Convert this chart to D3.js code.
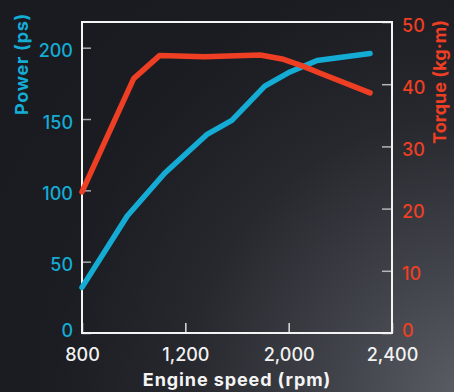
<!DOCTYPE html>
<html><head><meta charset="utf-8">
<script src="https://cdn.jsdelivr.net/npm/d3@7"></script>
<style>html,body{margin:0;padding:0;background:#1b1c21;}svg{display:block;}</style>
</head><body>
<script>
// ---- data ----
const xTicks = [800, 1200, 2000, 2400];
const powerTicks = [0, 50, 100, 150, 200];
const torqueTicks = [0, 10, 20, 30, 40, 50];
const powerRpm = [800, 975, 1120, 1365, 1560, 1815, 2005, 2110, 2315];
const powerPs  = [32, 82, 112, 139, 149, 173, 183, 191, 196];
const torqueRpm = [800, 1000, 1100, 1350, 1780, 1960, 2055, 2120, 2315];
const torqueKgm = [22.7, 40.9, 44.6, 44.4, 44.7, 44.0, 42.9, 41.8, 38.6];

const W = 454, H = 392;
const mLeft = 82, mRight = 392, mTop = 22, mBottom = 333;
const cyan = "#14acd4", red = "#ee3f24";
const font = "Inter, 'Noto Sans', sans-serif";

const svg = d3.select("body").append("svg").attr("width", W).attr("height", H);
const defs = svg.append("defs");
const g = defs.append("radialGradient").attr("id","bg").attr("gradientUnits","userSpaceOnUse")
  .attr("cx", 470).attr("cy", 400).attr("r", 520);
[[0,"#5c5f66"],[0.25,"#42444b"],[0.55,"#26282e"],[0.8,"#1c1d22"],[1,"#1a1b20"]]
  .forEach(([o,c]) => g.append("stop").attr("offset", o).attr("stop-color", c));
svg.append("rect").attr("width", W).attr("height", H).attr("fill", "url(#bg)");

// piecewise scale: ticks are evenly spaced on the axis
const x = d3.scaleLinear().domain(xTicks)
  .range(xTicks.map((d, i) => mLeft + i * (mRight - mLeft) / (xTicks.length - 1)));
const yL = d3.scaleLinear().domain([0, 200]).range([mBottom, 47.7]);
const yR = d3.scaleLinear().domain([0, 50]).range([mBottom, mTop]);

// axes
const ax = svg.append("g").attr("transform", `translate(0,${mBottom})`)
  .call(d3.axisBottom(x).tickValues(xTicks).tickFormat(d3.format(",")).tickSize(-10).tickPadding(15));
ax.selectAll("text").attr("fill", "#f2f2f2");
ax.selectAll(".tick line").attr("stroke", "#dddddd").attr("stroke-width", 1.5);

const al = svg.append("g").attr("transform", `translate(${mLeft},0)`)
  .call(d3.axisLeft(yL).tickValues(powerTicks).tickSize(-9).tickPadding(9));
al.selectAll("text").attr("fill", cyan).attr("dy", d => d === 0 ? "0.2em" : "0.5em");
al.selectAll(".tick line").attr("stroke", "#a9a9a9").attr("stroke-width", 1.5);

const ar = svg.append("g").attr("transform", `translate(${mRight},0)`)
  .call(d3.axisRight(yR).tickValues(torqueTicks).tickSize(-10).tickPadding(10));
ar.selectAll("text").attr("fill", red).attr("dy", d => d === 0 ? "0.2em" : "0.5em");
ar.selectAll(".tick line").attr("stroke", "#b5b5b5").attr("stroke-width", 1.5);

svg.selectAll(".domain").remove();
svg.selectAll(".tick text").attr("font-family", font).attr("font-size", 18).attr("font-weight", 500);

// frame
svg.append("rect").attr("x", mLeft).attr("y", mTop).attr("width", mRight - mLeft).attr("height", mBottom - mTop)
  .attr("fill", "none").attr("stroke", "#f4f4f4").attr("stroke-width", 2);

// lines
const lineP = d3.line().x(d => x(d[0])).y(d => yL(d[1]));
const lineT = d3.line().x(d => x(d[0])).y(d => yR(d[1]));
svg.append("path").datum(powerRpm.map((r, i) => [r, powerPs[i]]))
  .attr("d", lineP).attr("fill", "none").attr("stroke", cyan).attr("stroke-width", 5.5)
  .attr("stroke-linecap", "round").attr("stroke-linejoin", "round");
svg.append("path").datum(torqueRpm.map((r, i) => [r, torqueKgm[i]]))
  .attr("d", lineT).attr("fill", "none").attr("stroke", red).attr("stroke-width", 5.5)
  .attr("stroke-linecap", "round").attr("stroke-linejoin", "round");

// titles
svg.append("text").attr("x", 237).attr("y", 386).attr("text-anchor", "middle")
  .attr("font-family", font).attr("font-size", 18).attr("font-weight", 700).attr("fill", "#f4f4f4")
  .attr("letter-spacing", 0.9).text("Engine speed (rpm)");
svg.append("text").attr("transform", "translate(28,64) rotate(-90)").attr("text-anchor", "middle")
  .attr("font-family", font).attr("font-size", 18).attr("font-weight", 700).attr("fill", cyan)
  .attr("letter-spacing", 0.7).text("Power (ps)");
svg.append("text").attr("transform", "translate(446,82) rotate(-90)").attr("text-anchor", "middle")
  .attr("font-family", font).attr("font-size", 18).attr("font-weight", 700).attr("fill", red)
  .text("Torque (kg·m)");
</script>
</body></html>
